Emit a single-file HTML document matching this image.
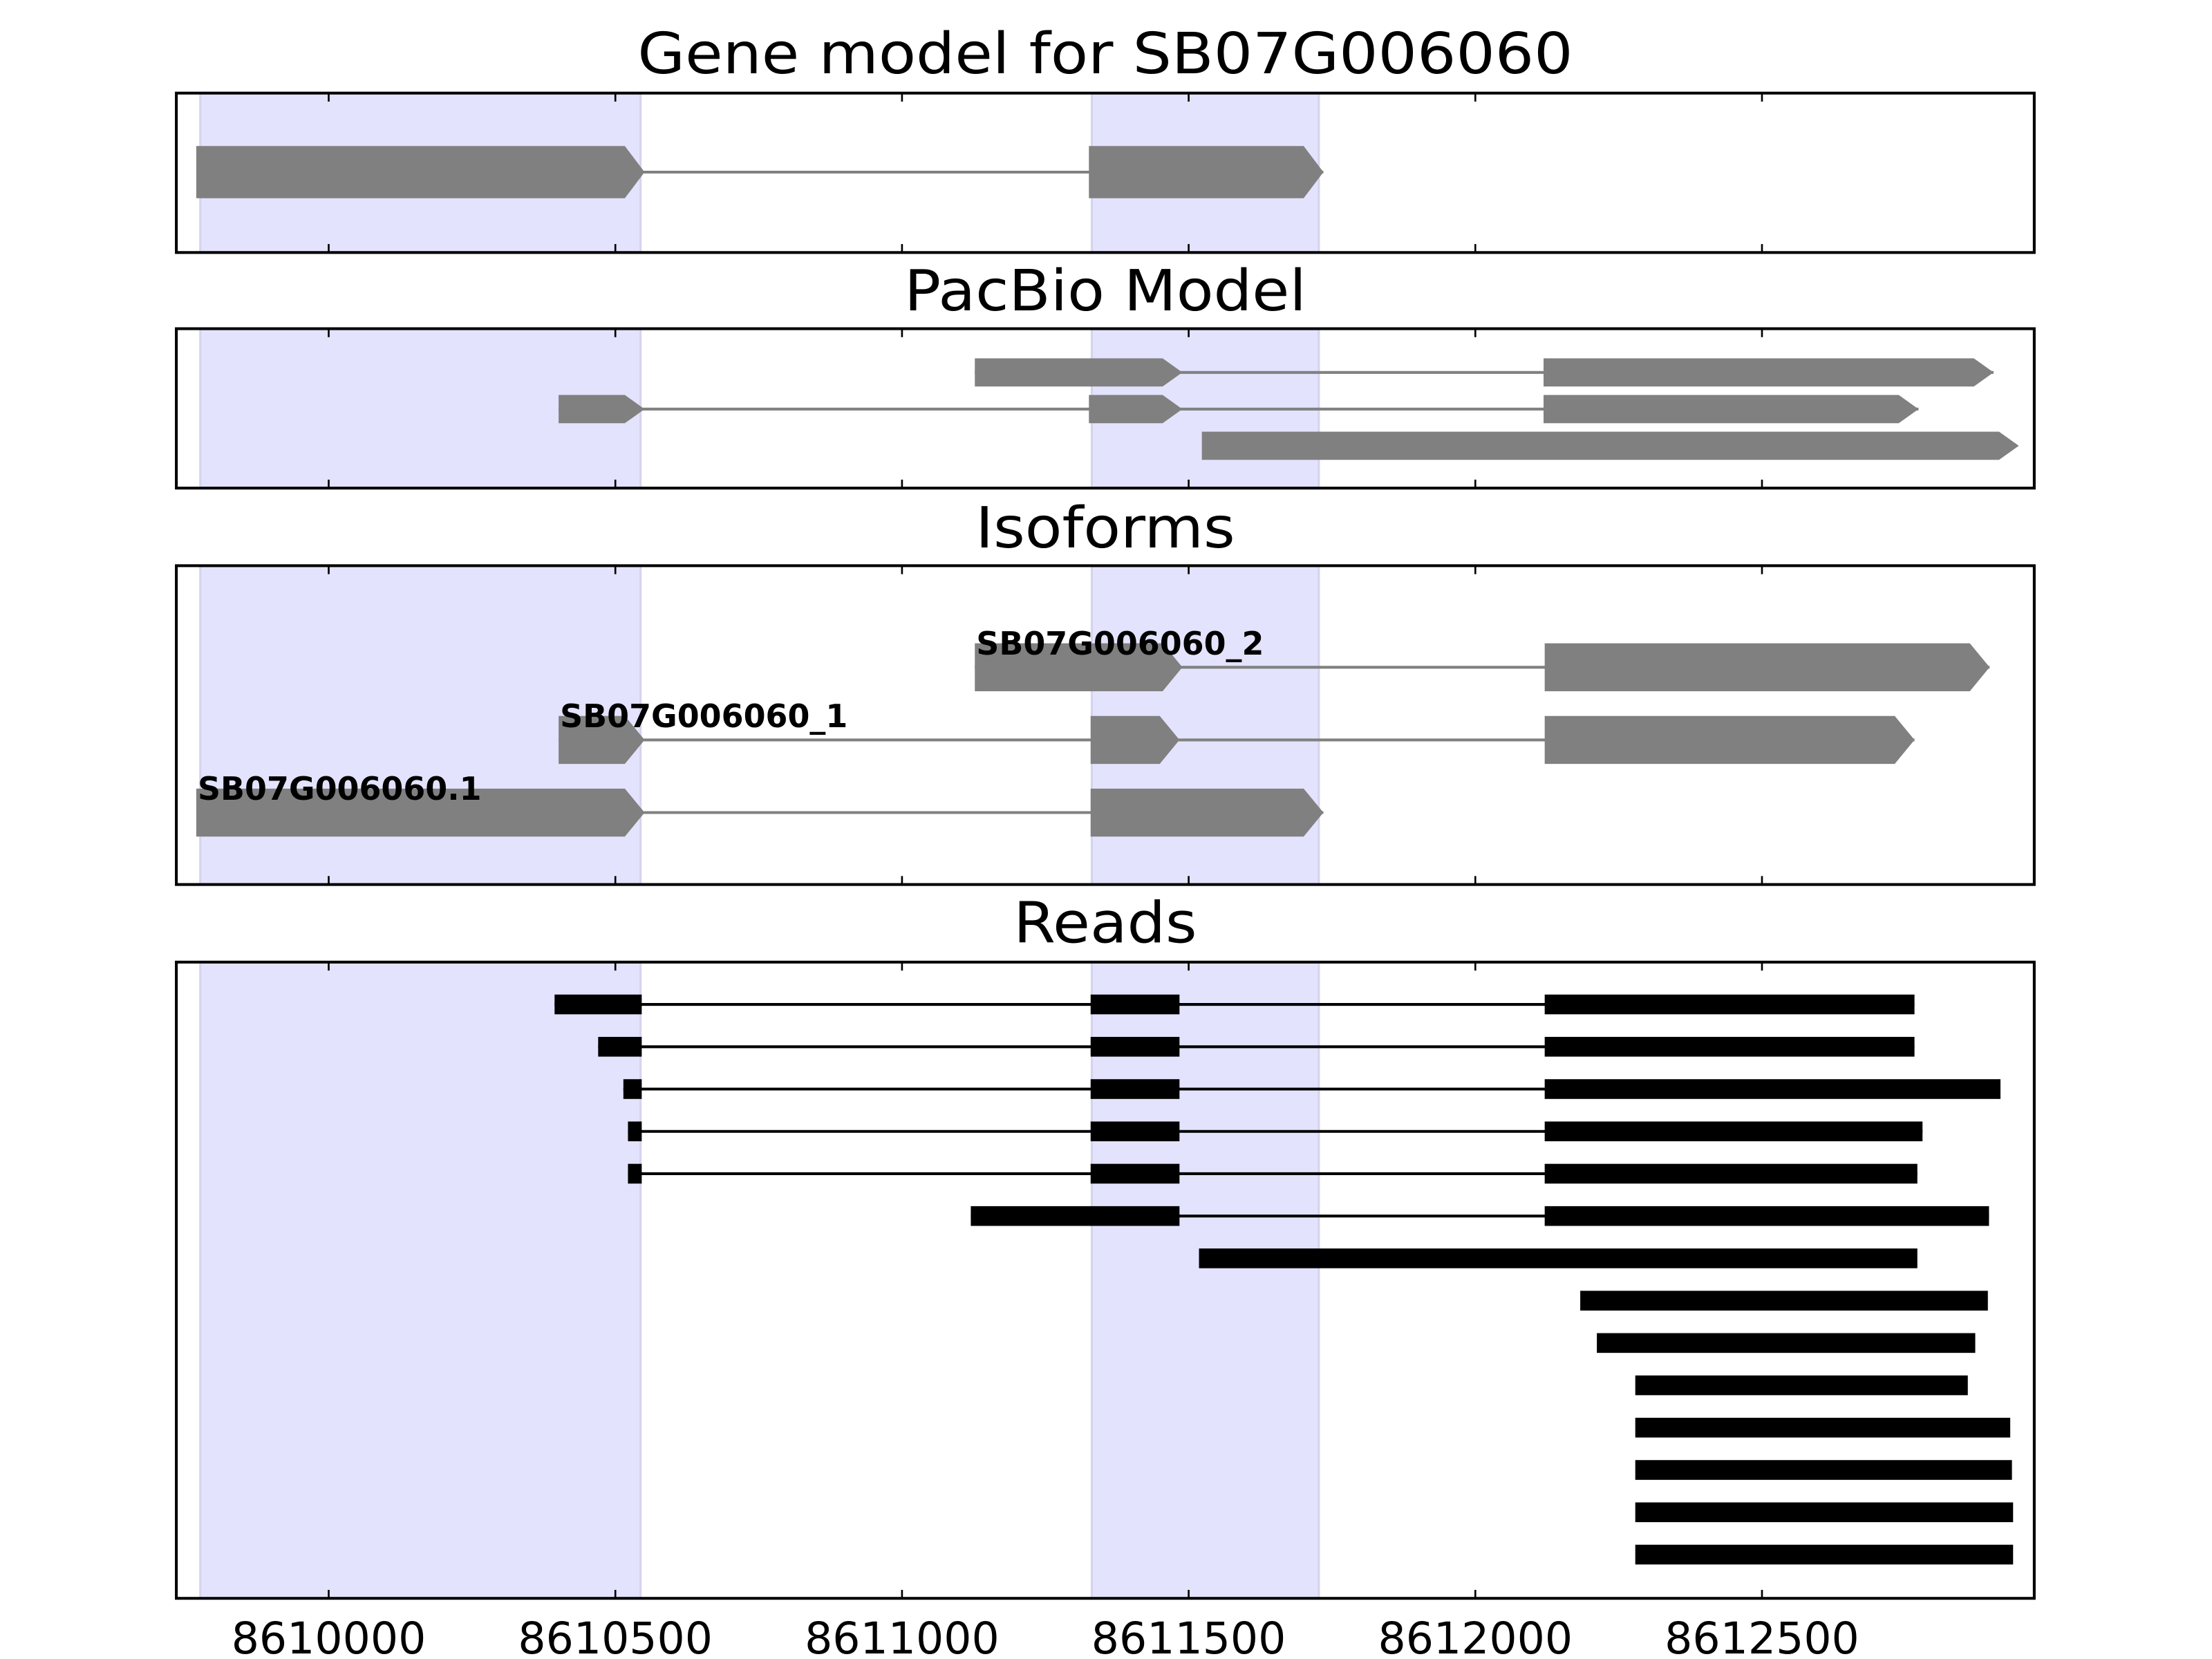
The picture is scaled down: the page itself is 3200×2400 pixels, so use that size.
<!DOCTYPE html>
<html><head><meta charset="utf-8"><style>
html,body{margin:0;padding:0;background:#fff;}
svg{display:block;}
text{font-family:"DejaVu Sans","Liberation Sans",sans-serif;}
</style></head><body>
<svg id="fig" xmlns="http://www.w3.org/2000/svg" width="3200" height="2400" viewBox="0 0 1568 1176"></svg>
<script>
const tickValues=[8610000,8610500,8611000,8611500,8612000,8612500];
const tickLabels=["8610000","8610500","8611000","8611500","8612000","8612500"];
const shadeStarts=[8609776,8611331];
const shadeEnds=[8610544,8611727];
const geneModel=[[[8609769,8610551],[8611326,8611735]]];
const pacbioModels=[
 [[8611127,8611489],[8612119,8612904]],
 [[8610401,8610551],[8611326,8611489],[8612119,8612773]],
 [[8611523,8612948]]
];
const isoformNames=["SB07G006060_2","SB07G006060_1","SB07G006060.1"];
const isoformModels=[
 [[8611127,8611489],[8612121,8612897]],
 [[8610401,8610551],[8611329,8611484],[8612121,8612766]],
 [[8609769,8610551],[8611329,8611735]]
];
const reads=[
 [[8610394,8610546],[8611329,8611484],[8612121,8612766]],
 [[8610470,8610546],[8611329,8611484],[8612121,8612766]],
 [[8610514,8610546],[8611329,8611484],[8612121,8612916]],
 [[8610522,8610546],[8611329,8611484],[8612121,8612780]],
 [[8610522,8610546],[8611329,8611484],[8612121,8612771]],
 [[8611120,8611484],[8612121,8612896]],
 [[8611518,8612771]],
 [[8612183,8612894]],
 [[8612212,8612872]],
 [[8612279,8612859]],
 [[8612279,8612933]],
 [[8612279,8612936]],
 [[8612279,8612938]],
 [[8612279,8612938]]
];
const NS="http://www.w3.org/2000/svg";
const svg=document.getElementById('fig');
const X0=125,X1=1442;
function xs(v){return 233+(v-8610000)*0.4064;}
function mk(tag,attrs,parent){const e=document.createElementNS(NS,tag);for(const k in attrs)e.setAttribute(k,attrs[k]);(parent||svg).appendChild(e);return e;}
const panels=[
 {title:"Gene model for SB07G006060",top:66,bot:179,ty:52,tl:663,name:"gene-model-panel"},
 {title:"PacBio Model",top:233,bot:346,ty:220,tl:285,name:"pacbio-panel"},
 {title:"Isoforms",top:401,bot:627,ty:388,tl:184,name:"isoforms-panel"},
 {title:"Reads",top:682,bot:1133,ty:668,tl:130,name:"reads-panel"}
];
function arrowExon(g,a,b,yc,h,tip,col){
 const x1=xs(a),x2=xs(b);const t=Math.min(tip,x2-x1);
 const p=mk('polygon',{points:`${x1},${yc-h/2} ${x2-t},${yc-h/2} ${x2},${yc} ${x2-t},${yc+h/2} ${x1},${yc+h/2}`,fill:col},g);
 
 
}
function model(g,exons,yc,h,col,lw,arrow){
 const first=exons[0][0],last=exons[exons.length-1][1];
 if(exons.length>1){const l=mk('line',{x1:xs(first),x2:xs(last),y1:yc,y2:yc,stroke:col,'stroke-width':lw},g);
 
 }
 exons.forEach(e=>{
  if(arrow)arrowExon(g,e[0],e[1],yc,h,14,col);
  else{const r=mk('rect',{x:xs(e[0]),y:yc-h/2,width:xs(e[1])-xs(e[0]),height:h,fill:col},g);
  
  }
 });
}
panels.forEach((p,pi)=>{
 const g=mk('g',{});
 
 
 const t=mk('text',{x:(X0+X1)/2,y:p.ty,'text-anchor':'middle','font-size':40,textLength:p.tl,lengthAdjust:'spacingAndGlyphs'},g);
 t.textContent=p.title;
 
 
 shadeStarts.forEach((s,i)=>{
  const r=mk('rect',{x:xs(s),y:p.top,width:xs(shadeEnds[i])-xs(s),height:p.bot-p.top,fill:'#e3e3fd',stroke:'#d4d4ee','stroke-width':1.5},g);
  
  
 });
 if(pi===0){geneModel.forEach(m=>model(g,m,122,37,'#808080',2,true));}
 if(pi===1){pacbioModels.forEach((m,i)=>model(g,m,264+i*26,20,'#808080',2,true));}
 if(pi===2){isoformModels.forEach((m,i)=>{const yc=473+i*51.5;model(g,m,yc,34,'#808080',2,true);
  const lb=mk('text',{x:xs(m[0][0])+1,y:yc-9,'font-size':22.5,'font-weight':'bold',fill:'#000'},g);
  lb.textContent=isoformNames[i];
  
  });}
 if(pi===3){reads.forEach((m,i)=>model(g,m,712+i*30,14,'#000',2,false));}
 tickValues.forEach(v=>{
  mk('line',{x1:xs(v),x2:xs(v),y1:p.top,y2:p.top+6,stroke:'#000','stroke-width':1.3},g);
  mk('line',{x1:xs(v),x2:xs(v),y1:p.bot,y2:p.bot-6,stroke:'#000','stroke-width':1.3},g);
 });
 const fr=mk('rect',{x:X0,y:p.top,width:X1-X0,height:p.bot-p.top,fill:'none',stroke:'#000','stroke-width':2},g);
 
 
});
tickValues.forEach((v,i)=>{
 const t=mk('text',{x:xs(v),y:1172,'text-anchor':'middle','font-size':31,textLength:138,lengthAdjust:'spacingAndGlyphs'});
 t.textContent=tickLabels[i];
 
 
});
</script>
</body></html>
